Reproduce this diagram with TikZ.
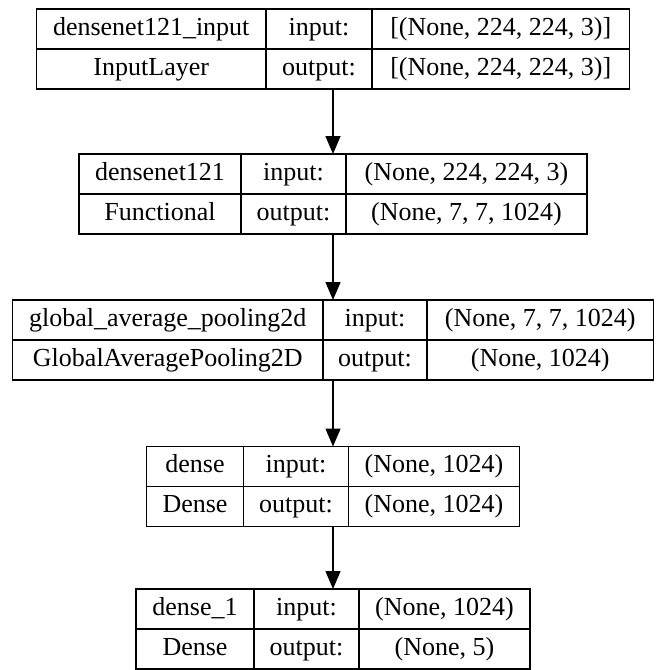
\documentclass[tikz,border=0pt]{standalone}
\usepackage{fontspec}
\setmainfont{Liberation Serif}
\usetikzlibrary{arrows.meta}
\tikzset{
  layerbox/.style={draw, line width=1.3pt, inner sep=0pt, outer sep=0pt},
  cell/.style={inner sep=0pt, text height=18pt, text depth=6pt, font=\fontsize{26}{30}\selectfont},
  rule/.style={line width=1.3pt},
  flow/.style={line width=1.3pt, -{Triangle[length=18pt,width=15pt]}},
}
% #1 name, #2 top, #3 layer name, #4 class, #5 input shape, #6 output shape
% uses \kL (left), \kA (divider 1), \kB (divider 2), \kR (right)
\newcommand\klayer[6]{%
  \node[layerbox, minimum width={\kR-\kL}, minimum height=80pt, anchor=north west] (#1) at (\kL,#2) {};
  \draw[rule] (\kA,#2) -- (\kA,#2+80);
  \draw[rule] (\kB,#2) -- (\kB,#2+80);
  \draw[rule] (\kL,#2+40) -- (\kR,#2+40);
  \node[cell] (#1-n) at ({(\kL+\kA)/2},#2+20) {#3};
  \node[cell] (#1-c) at ({(\kL+\kA)/2},#2+60) {#4};
  \node[cell] (#1-il) at ({(\kA+\kB)/2},#2+20) {input:};
  \node[cell] (#1-ol) at ({(\kA+\kB)/2},#2+60) {output:};
  \node[cell] (#1-i) at ({(\kB+\kR)/2},#2+20) {#5};
  \node[cell] (#1-o) at ({(\kB+\kR)/2},#2+60) {#6};
}
\begin{document}
\begin{tikzpicture}[x=1pt,y=-1pt]
\useasboundingbox (0,0) rectangle (662,670);
\fill[white] (0,0) rectangle (662,670);

\def\kL{36.5}\def\kA{266}\def\kB{372}\def\kR{629.5}
\klayer{b1}{9}{densenet121\_input}{InputLayer}{[(None, 224, 224, 3)]}{[(None, 224, 224, 3)]}

\def\kL{79}\def\kA{241}\def\kB{346}\def\kR{587}
\klayer{b2}{154}{densenet121}{Functional}{(None, 224, 224, 3)}{(None, 7, 7, 1024)}

\def\kL{12.5}\def\kA{323}\def\kB{427}\def\kR{653.5}
\klayer{b3}{300}{global\_average\_pooling2d}{GlobalAveragePooling2D}{(None, 7, 7, 1024)}{(None, 1024)}

\def\kL{146.5}\def\kA{243.5}\def\kB{348.5}\def\kR{519.5}
\klayer{b4}{446.5}{dense}{Dense}{(None, 1024)}{(None, 1024)}

\def\kL{136}\def\kA{254}\def\kB{359}\def\kR{530}
\klayer{b5}{589}{dense\_1}{Dense}{(None, 1024)}{(None, 5)}

\draw[flow] (b1.south) -- (b2.north);
\draw[flow] (b2.south) -- (b3.north);
\draw[flow] (b3.south) -- (b4.north);
\draw[flow] (b4.south) -- (b5.north);
\end{tikzpicture}
\end{document}
